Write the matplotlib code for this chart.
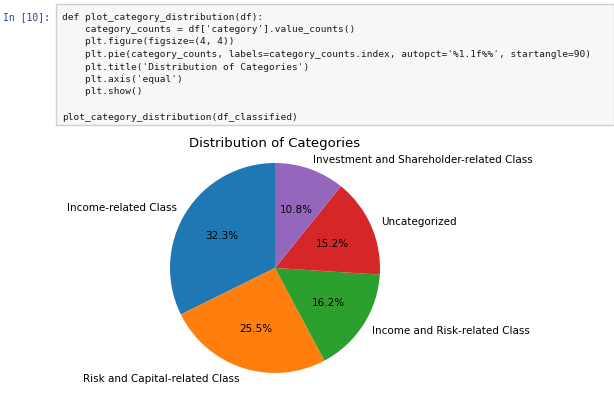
import matplotlib.pyplot as plt
from matplotlib.patches import Rectangle

categories = ['Income-related Class', 'Risk and Capital-related Class',
              'Income and Risk-related Class', 'Uncategorized',
              'Investment and Shareholder-related Class']
counts = [32.3, 25.5, 16.2, 15.2, 10.8]

code_lines = [
    "def plot_category_distribution(df):",
    "    category_counts = df['category'].value_counts()",
    "    plt.figure(figsize=(4, 4))",
    "    plt.pie(category_counts, labels=category_counts.index, autopct='%1.1f%%', startangle=90)",
    "    plt.title('Distribution of Categories')",
    "    plt.axis('equal')",
    "    plt.show()",
    "",
    "plot_category_distribution(df_classified)",
]

W, H = 614, 402
fig = plt.figure(figsize=(W / 100, H / 100), dpi=100)

def fx(x):
    return x / W

def fy(y):
    return 1 - y / H

# code cell
fig.patches.append(Rectangle((fx(56), fy(126)), fx(614 - 56), (126 - 5) / H,
                             transform=fig.transFigure, facecolor='#f7f7f7',
                             edgecolor='#cfcfcf', lw=1))
fig.text(fx(50), fy(17), 'In [10]:', ha='right', va='center',
         family='DejaVu Sans Mono', fontsize=7, color='#303f9f')
for i, line in enumerate(code_lines):
    if not line:
        continue
    fig.text(fx(62), fy(17 + i * 12.5), line, ha='left', va='center',
             family='DejaVu Sans Mono', fontsize=6.8, color='#1a1a1a')

# pie
cx, cy, r = 275, 269, 105
half = 1.25 * r
ax = fig.add_axes([fx(cx - half), fy(cy + half), 2 * half / W, 2 * half / H])
ax.pie(counts, labels=categories, autopct='%1.1f%%', startangle=90,
       textprops={'fontsize': 7.5})
ax.axis('equal')
ax.set_xlim(-1.25, 1.25)
ax.set_ylim(-1.25, 1.25)
fig.text(fx(cx), fy(143), 'Distribution of Categories', ha='center',
         va='center', fontsize=9.5)

fig.savefig('out.png', dpi=100)
